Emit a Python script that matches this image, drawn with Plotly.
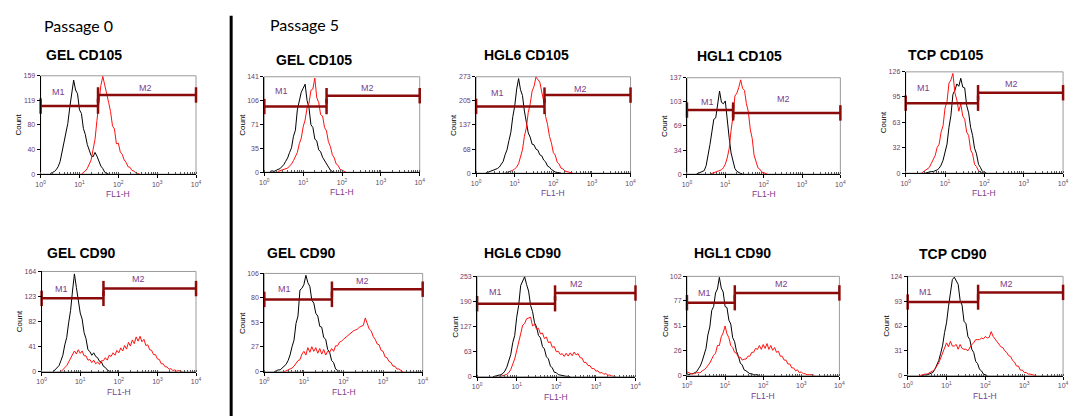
import plotly.graph_objects as go
import math

W, H = 1076, 419
STEP = 0.05  # histogram channel width, in decades of FL1-H

titles = ["GEL CD105", "GEL CD105", "HGL6 CD105", "HGL1 CD105", "TCP CD105",
          "GEL CD90", "GEL CD90", "HGL6 CD90", "HGL1 CD90", "TCP CD90"]
ymax = [159, 141, 273, 137, 126, 164, 106, 253, 102, 124]
yticks = [[0, 40, 80, 119, 159], [0, 35, 71, 106, 141], [0, 68, 137, 205, 273],
          [0, 34, 69, 103, 137], [0, 32, 63, 95, 126], [0, 41, 82, 123, 164],
          [0, 27, 53, 80, 106], [0, 63, 127, 190, 253], [0, 26, 51, 77, 102],
          [0, 31, 62, 93, 124]]
xtick_vals = [1, 10, 100, 1000, 10000]
xtick_text = ["10<sup>0</sup>", "10<sup>1</sup>", "10<sup>2</sup>", "10<sup>3</sup>", "10<sup>4</sup>"]

# marker gates: boundary (FL1-H), M1 level, M2 level
gate_bound = [30, 40, 59, 16, 69, 40, 51, 93, 18, 65]
m1_level = [110, 97, 189, 91, 87, 120, 78, 184, 75, 92]
m2_level = [128, 113, 221, 87, 100, 136, 89, 211, 85, 104]
m1_label_pos = [(2.8, 132), (2.8, 120), (3.5, 228), (3.5, 103), (2.9, 106),
                (3.2, 136), (3.2, 89), (2.9, 213), (2.9, 85), (2.8, 104)]
m2_label_pos = [(490, 139), (460, 125), (510, 239), (330, 107), (480, 111),
                (320, 151), (300, 98), (320, 234), (310, 94), (350, 115)]

# isotype control (black) histograms: first channel (decade) and counts
black_start = [0.25, 0.15, 0.25, 0.25, 0.50, 0.30, 0.25, 0.40, 0.00, 0.35]
black_counts = [
    [1, 2, 4, 7, 12, 20, 35, 48, 68, 82, 108, 128, 152, 136, 130, 104, 98, 74, 64, 48,
     40, 30, 28, 35, 29, 21, 13, 9, 3, 1, 0],
    [1, 2, 1, 3, 4, 5, 8, 11, 16, 21, 29, 36, 53, 62, 92, 104, 118, 124, 130, 106,
     95, 70, 66, 49, 46, 33, 30, 22, 17, 11, 8, 3, 1, 0],
    [0, 2, 3, 5, 7, 9, 13, 17, 26, 33, 52, 66, 92, 116, 160, 190, 238, 268, 236, 220,
     176, 150, 114, 102, 82, 80, 68, 65, 52, 49, 37, 32, 20, 17, 10, 7, 3, 2, 1, 0],
    [0, 1, 2, 3, 5, 12, 25, 42, 60, 78, 80, 99, 118, 102, 100, 104, 74, 52, 30, 17,
     8, 4, 2, 1, 0],
    [0, 1, 1, 2, 2, 3, 4, 6, 10, 16, 26, 36, 57, 72, 98, 103, 111, 108, 118, 107,
     106, 84, 75, 57, 47, 31, 24, 11, 7, 2, 1, 0],
    [0, 3, 6, 10, 18, 27, 44, 56, 80, 100, 132, 160, 138, 120, 96, 86, 64, 54, 36, 33,
     27, 31, 25, 23, 17, 16, 9, 7, 3, 1, 0],
    [0, 1, 2, 2, 4, 5, 8, 12, 18, 27, 34, 52, 60, 88, 90, 94, 104, 96, 92, 77,
     74, 63, 60, 49, 48, 37, 35, 24, 21, 12, 10, 3, 1, 0],
    [0, 1, 2, 3, 5, 8, 14, 24, 40, 56, 86, 104, 150, 180, 230, 240, 252, 232, 216, 180,
     164, 136, 126, 104, 98, 76, 70, 50, 45, 27, 22, 11, 10, 5, 4, 2, 2, 1, 1, 0],
    [2, 1, 2, 2, 3, 4, 7, 10, 15, 22, 28, 42, 50, 67, 71, 85, 89, 101, 90, 86,
     71, 70, 57, 53, 39, 35, 25, 20, 13, 11, 6, 5, 3, 2, 2, 1, 1, 1, 0],
    [0, 1, 1, 1, 2, 2, 4, 8, 13, 19, 28, 38, 54, 66, 86, 102, 120, 123, 118, 114,
     94, 88, 68, 65, 49, 45, 33, 29, 18, 15, 8, 6, 2, 1, 0],
]

# antibody-stained (red) histograms: first channel (decade) and counts
red_start = [1.05, 0.35, 0.75, 0.60, 0.40, 0.50, 0.50, 0.55, 0.00, 0.30]
red_counts = [
    [0, 2, 5, 9, 15, 23, 40, 56, 87, 112, 143, 158, 142, 130, 116, 101, 78, 73, 49, 50,
     36, 32, 23, 19, 12, 11, 6, 5, 2, 1, 0],
    [1, 2, 3, 4, 5, 6, 9, 12, 17, 23, 29, 42, 50, 67, 77, 95, 102, 121, 123, 139,
     110, 103, 85, 83, 66, 61, 45, 38, 26, 21, 12, 10, 4, 3, 1, 0],
    [0, 2, 3, 5, 8, 12, 17, 27, 47, 66, 104, 128, 172, 196, 232, 246, 272, 264, 258, 230,
     204, 160, 138, 104, 86, 58, 51, 31, 26, 14, 12, 6, 5, 3, 1, 0],
    [0, 1, 2, 2, 3, 4, 6, 9, 14, 23, 36, 62, 82, 111, 115, 123, 134, 122, 119, 100,
     89, 64, 51, 27, 19, 9, 7, 3, 2, 1, 0],
    [0, 2, 3, 5, 7, 12, 18, 22, 32, 36, 51, 59, 81, 89, 112, 116, 124, 100, 91, 77,
     86, 71, 67, 51, 47, 29, 24, 11, 8, 3, 1, 0],
    [0, 3, 6, 10, 16, 22, 30, 34, 29, 36, 30, 34, 26, 26, 19, 20, 15, 19, 13, 16,
     12, 18, 18, 23, 19, 27, 25, 31, 27, 35, 31, 39, 34, 43, 37, 48, 42, 52, 46, 57,
     50, 58, 49, 53, 43, 44, 36, 35, 28, 28, 21, 20, 13, 13, 8, 8, 4, 5, 2, 3,
     1, 2, 1, 0],
    [0, 1, 2, 3, 4, 6, 9, 12, 13, 19, 22, 18, 26, 21, 27, 22, 26, 20, 25, 19,
     24, 18, 22, 21, 25, 22, 28, 28, 32, 33, 35, 37, 38, 41, 42, 44, 45, 46, 48, 49,
     50, 58, 53, 46, 44, 38, 35, 30, 29, 23, 22, 16, 15, 11, 10, 6, 6, 3, 3, 1, 0],
    [0, 1, 2, 4, 6, 10, 18, 30, 45, 66, 92, 108, 130, 134, 146, 148, 150, 128, 132, 120,
     122, 108, 110, 96, 100, 86, 88, 74, 76, 63, 64, 56, 58, 51, 59, 52, 60, 53, 62, 55,
     58, 48, 47, 36, 36, 28, 28, 20, 21, 14, 15, 9, 11, 6, 8, 4, 4, 2, 1, 0],
    [4, 3, 2, 2, 2, 3, 3, 3, 5, 6, 8, 10, 13, 17, 21, 23, 31, 31, 40, 44,
     51, 43, 39, 31, 29, 24, 23, 19, 19, 16, 17, 17, 20, 20, 24, 24, 28, 27, 31, 27,
     32, 28, 33, 27, 31, 26, 29, 24, 25, 20, 20, 16, 16, 12, 12, 8, 8, 5, 6, 3,
     4, 2, 2, 1, 1, 1, 1, 0],
    [0, 1, 1, 2, 2, 3, 4, 6, 8, 12, 16, 22, 29, 35, 41, 36, 43, 37, 37, 39,
     33, 39, 34, 33, 33, 31, 35, 39, 41, 45, 45, 45, 47, 46, 49, 47, 48, 55, 49, 46,
     42, 40, 36, 35, 31, 29, 25, 24, 19, 17, 12, 12, 7, 7, 4, 4, 2, 2, 1, 1, 0],
]

# plot-area boxes in pixels: left, right, top, bottom
boxes = [(36, 193, 73, 173), (262, 419, 74, 171), (476, 632, 74, 172),
         (689, 844, 75, 173), (910, 1069, 69, 172),
         (37, 193, 272, 374), (262, 422, 274, 374), (477, 637, 277, 379),
         (689, 843, 277, 378), (912, 1069, 277, 378)]
title_pos = [(39, 52), (272, 57), (482, 52), (697, 52.5), (910, 52),
             (40, 253), (263, 253), (482, 253), (694, 253), (921, 254)]

GATE = "#8b0a0a"
PURPLE = "#7b3d8c"
TICKPURPLE = "#6e3a6e"
FONT = "Liberation Sans, Arial, sans-serif"


def channels(start, n):
    return [10 ** (start + STEP * i) for i in range(n)]


fig = go.Figure()
layout = dict(width=W, height=H, margin=dict(l=0, r=0, t=0, b=0),
              paper_bgcolor="white", plot_bgcolor="white", showlegend=False,
              font=dict(family=FONT))
annotations = []
shapes = []

for k in range(10):
    n = k + 1
    xa = "x" if n == 1 else f"x{n}"
    ya = "y" if n == 1 else f"y{n}"
    xkey = "xaxis" if n == 1 else f"xaxis{n}"
    ykey = "yaxis" if n == 1 else f"yaxis{n}"
    L, R, T, B = boxes[k]
    layout[xkey] = dict(
        domain=[L / W, R / W], anchor=ya, type="log", range=[0, 4],
        tickmode="array", tickvals=xtick_vals, ticktext=xtick_text,
        ticks="outside", ticklen=3, tickwidth=1, tickcolor="black",
        tickfont=dict(size=7, color="#5c4a66", family=FONT),
        minor=dict(ticks="inside", ticklen=2, tickcolor="#555", dtick="D1", showgrid=False),
        showline=True, linecolor="black", linewidth=1, showgrid=False, zeroline=False,
        fixedrange=True)
    layout[ykey] = dict(
        domain=[1 - B / H, 1 - T / H], anchor=xa, range=[0, ymax[k]],
        tickmode="array", tickvals=yticks[k], ticktext=[str(v) for v in yticks[k]],
        ticks="outside", ticklen=3, tickwidth=1, tickcolor="black",
        tickfont=dict(size=7, color=TICKPURPLE, family=FONT),
        showline=True, linecolor="black", linewidth=1, showgrid=False, zeroline=False,
        fixedrange=True)

    # gray frame (top/right)
    shapes.append(dict(type="rect", xref=f"{xa} domain", yref=f"{ya} domain",
                       x0=0, x1=1, y0=0, y1=1, line=dict(color="#9a9a9a", width=1),
                       layer="below"))

    bx = channels(black_start[k], len(black_counts[k]))
    rx = channels(red_start[k], len(red_counts[k]))
    fig.add_trace(go.Scatter(x=bx, y=black_counts[k], mode="lines", xaxis=xa, yaxis=ya,
                             line=dict(color="black", width=1), hoverinfo="skip"))
    fig.add_trace(go.Scatter(x=rx, y=red_counts[k], mode="lines", xaxis=xa, yaxis=ya,
                             line=dict(color="#ff1010", width=1), hoverinfo="skip"))

    # gates M1 / M2
    for xs, lvl in (([1, gate_bound[k]], m1_level[k]), ([gate_bound[k], 10000], m2_level[k])):
        fig.add_trace(go.Scatter(x=xs, y=[lvl, lvl], mode="lines+markers", xaxis=xa, yaxis=ya,
                                 line=dict(color=GATE, width=2.5),
                                 marker=dict(symbol="line-ns", size=11,
                                             line=dict(color=GATE, width=2.5)),
                                 cliponaxis=False, hoverinfo="skip"))

    m1x, m1y = m1_label_pos[k]
    m2x, m2y = m2_label_pos[k]
    annotations.append(dict(xref=xa, yref=ya, x=math.log10(m1x), y=m1y, text="M1",
                            showarrow=False, xanchor="center", yanchor="middle",
                            font=dict(size=9, color=PURPLE, family=FONT)))
    annotations.append(dict(xref=xa, yref=ya, x=math.log10(m2x), y=m2y, text="M2",
                            showarrow=False, xanchor="center", yanchor="middle",
                            font=dict(size=9, color=PURPLE, family=FONT)))

    annotations.append(dict(xref=f"{xa} domain", yref=f"{ya} domain", x=0, y=0.5,
                            xshift=-22, xanchor="center", yanchor="middle",
                            text="Count", textangle=-90, showarrow=False,
                            font=dict(size=8, color="black", family=FONT)))
    annotations.append(dict(xref=f"{xa} domain", yref=f"{ya} domain", x=0.5, y=0,
                            yshift=-20, xanchor="center", yanchor="middle",
                            text="FL1-H", showarrow=False,
                            font=dict(size=8.5, color=PURPLE, family=FONT)))

    tx, ty = title_pos[k]
    annotations.append(dict(xref="paper", yref="paper", x=tx / W, y=1 - ty / H,
                            xanchor="left", yanchor="middle", text=f"<b>{titles[k]}</b>",
                            showarrow=False, font=dict(size=14, color="black", family=FONT)))

annotations.append(dict(xref="paper", yref="paper", x=37 / W, y=1 - 21.5 / H,
                        xanchor="left", yanchor="middle", text="Passage 0", showarrow=False,
                        font=dict(size=16, color="black", family="Lato, sans-serif")))
annotations.append(dict(xref="paper", yref="paper", x=266 / W, y=1 - 21 / H,
                        xanchor="left", yanchor="middle", text="Passage 5", showarrow=False,
                        font=dict(size=16, color="black", family="Lato, sans-serif")))

shapes.append(dict(type="line", xref="paper", yref="paper", x0=228.5 / W, x1=228.5 / W,
                   y0=1 - 12 / H, y1=0, line=dict(color="black", width=3)))

layout["annotations"] = annotations
layout["shapes"] = shapes
fig.update_layout(**layout)
fig.write_html("out.html")
